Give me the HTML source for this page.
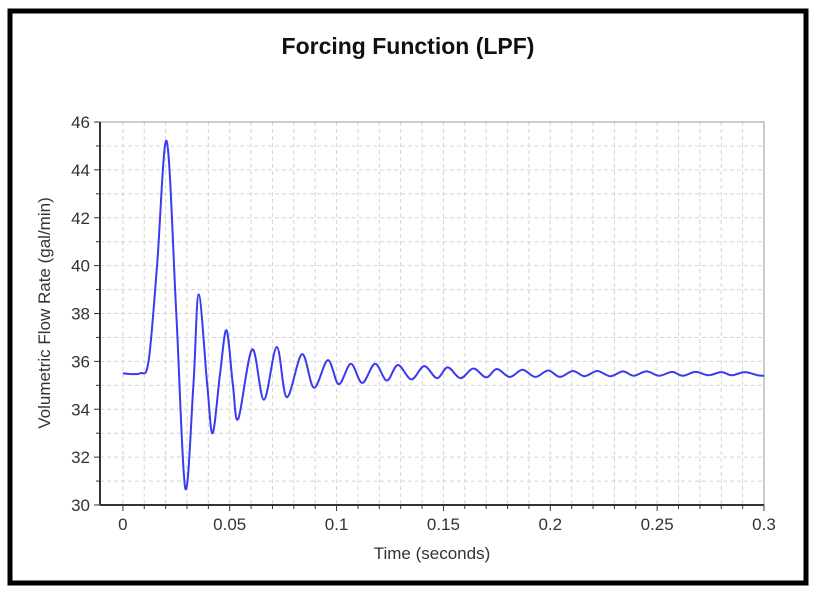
<!DOCTYPE html>
<html><head><meta charset="utf-8"><style>
html,body{margin:0;padding:0;background:#fff;}
svg{display:block;font-family:"Liberation Sans",Arial,sans-serif;}
</style></head><body>
<svg id="chart" width="816" height="595" viewBox="0 0 816 595">
<rect x="10" y="11" width="796" height="572" fill="#fff" stroke="#000" stroke-width="5"/>
<text x="408" y="54" text-anchor="middle" font-size="23" font-weight="bold" fill="#111">Forcing Function (LPF)</text>
<text x="0" y="0" transform="translate(50,313) rotate(-90)" text-anchor="middle" font-size="17" fill="#333">Volumetric Flow Rate (gal/min)</text>
<text x="432" y="559" text-anchor="middle" font-size="17" fill="#333">Time (seconds)</text>
<g id="grid"></g><g id="axes"></g><g id="series"></g>
</svg>
<script>
const xTicks=[0,0.05,0.1,0.15,0.2,0.25,0.3];
const xTickLabels=["0","0.05","0.1","0.15","0.2","0.25","0.3"];
const yTicks=[30,32,34,36,38,40,42,44,46];
const yTickLabels=["30","32","34","36","38","40","42","44","46"];
const times=[0,0.008,0.012,0.016,0.0205,0.025,0.0292,0.033,0.0355,0.0395,0.042,0.0455,0.0485,0.0515,0.054,0.0605,0.066,0.072,0.0767,0.0838,0.0894,0.0959,0.101,0.1067,0.112,0.118,0.1235,0.1287,0.135,0.141,0.147,0.152,0.158,0.164,0.170,0.175,0.181,0.187,0.193,0.199,0.2045,0.2106,0.216,0.222,0.228,0.234,0.239,0.245,0.251,0.257,0.262,0.268,0.274,0.280,0.285,0.291,0.297,0.3];
const flow=[35.5,35.5,36.0,40.0,45.2,38.0,30.7,35.0,38.8,35.0,33.0,35.5,37.3,35.0,33.6,36.5,34.4,36.6,34.5,36.3,34.9,36.05,35.05,35.9,35.1,35.9,35.2,35.85,35.25,35.8,35.3,35.75,35.3,35.7,35.33,35.68,35.35,35.65,35.35,35.62,35.35,35.6,35.38,35.6,35.38,35.58,35.4,35.58,35.4,35.56,35.4,35.56,35.42,35.55,35.42,35.55,35.42,35.4];
const NS="http://www.w3.org/2000/svg";
const L=100,R=764,T=122,B=505,xMin=-0.0107,xMax=0.3,yMin=30,yMax=46;
function xs(t){return L+(t-xMin)/(xMax-xMin)*(R-L);}
function ys(v){return B-(v-yMin)/(yMax-yMin)*(B-T);}
function mk(tag,attrs,parent){const e=document.createElementNS(NS,tag);for(const k in attrs)e.setAttribute(k,attrs[k]);parent.appendChild(e);return e;}
const grid=document.getElementById('grid'),axes=document.getElementById('axes'),series=document.getElementById('series');
for(let i=0;i<=30;i++){const t=i*0.01;const x=xs(t);
 const g=mk('line',{x1:x,x2:x,y1:T,y2:B,stroke:'#d4d4d4','stroke-dasharray':'4,3','stroke-width':1},grid);
 
 
 const tk=mk('line',{x1:x,x2:x,y1:B,y2:B+(i%5===0?6:4),stroke:'#333','stroke-width':1},axes);
 
 }
for(let v=31;v<46;v++){const y=ys(v);
 const g=mk('line',{x1:L,x2:R,y1:y,y2:y,stroke:'#d4d4d4','stroke-dasharray':'4,3','stroke-width':1},grid);
 
 }
for(let v=30;v<=46;v++){const y=ys(v);
 const tk=mk('line',{x1:L-(v%2===0?6:4),x2:L,y1:y,y2:y,stroke:'#333','stroke-width':1},axes);
 
 }
const frame=mk('rect',{x:L,y:T,width:R-L,height:B-T,fill:'none',stroke:'#999','stroke-width':1},axes);


const xa=mk('line',{x1:L,x2:R,y1:B,y2:B,stroke:'#333','stroke-width':2},axes);


const ya=mk('line',{x1:L,x2:L,y1:T,y2:B,stroke:'#333','stroke-width':2},axes);


xTicks.forEach((t,i)=>{const e=mk('text',{x:xs(t),y:B+25,'text-anchor':'middle','font-size':17,fill:'#333'},axes);e.textContent=xTickLabels[i];
 
 });
yTicks.forEach((v,i)=>{const e=mk('text',{x:L-10,y:ys(v)+6,'text-anchor':'end','font-size':17,fill:'#333'},axes);e.textContent=yTickLabels[i];
 
 });
const P=times.map((t,i)=>[xs(t),ys(flow[i])]);
let d='M'+P[0][0]+','+P[0][1];
for(let i=0;i<P.length-1;i++){const p0=P[Math.max(0,i-1)],p1=P[i],p2=P[i+1],p3=P[Math.min(P.length-1,i+2)];
 const c1=[p1[0]+(p2[0]-p0[0])/6,p1[1]+(p2[1]-p0[1])/6],c2=[p2[0]-(p3[0]-p1[0])/6,p2[1]-(p3[1]-p1[1])/6];
 d+=' C'+c1[0]+','+c1[1]+' '+c2[0]+','+c2[1]+' '+p2[0]+','+p2[1];}
const line=mk('path',{d:d,fill:'none',stroke:'#3a3af0','stroke-width':2},series);


</script>
</body></html>
